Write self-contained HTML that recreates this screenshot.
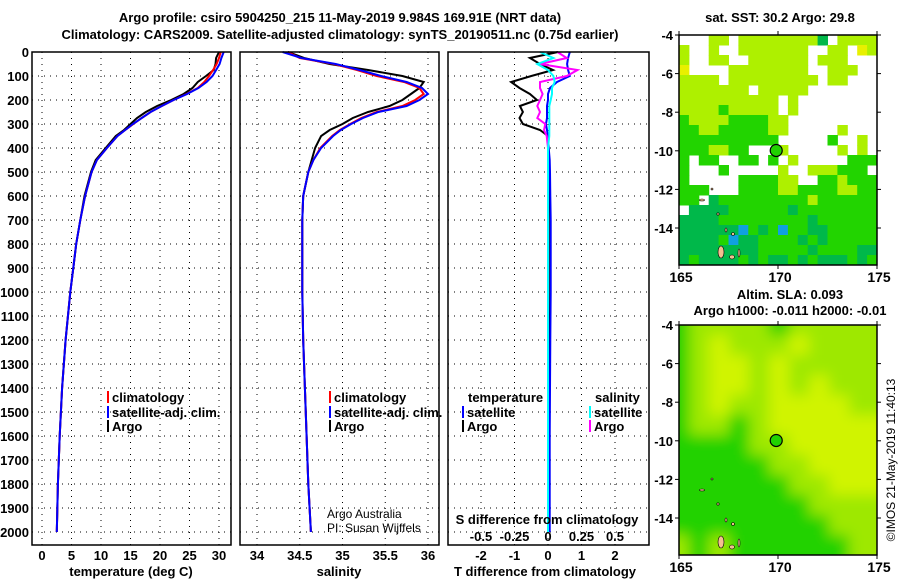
<!DOCTYPE html>
<html><head><meta charset="utf-8"><style>
html,body{margin:0;padding:0;background:#fff}
svg{display:block;font-family:"Liberation Sans",Arial,sans-serif}
text{font-weight:bold;font-size:13px;fill:#000}
</style></head><body>
<svg id="c" width="900" height="580" viewBox="0 0 900 580">
<defs>
<filter id="blur" x="0" y="0" width="1" height="1"><feGaussianBlur stdDeviation="7"/></filter>
<clipPath id="clipTop"><rect x="679" y="35" width="198" height="230"/></clipPath>
<clipPath id="clipBot"><rect x="679" y="325" width="198" height="230"/></clipPath>
</defs>
<text x="340" y="22" text-anchor="middle">Argo profile: csiro 5904250_215 11-May-2019 9.984S 169.91E (NRT data)</text>
<text x="340" y="39" text-anchor="middle">Climatology: CARS2009. Satellite-adjusted climatology: synTS_20190511.nc (0.75d earlier)</text>
<text x="780" y="22" text-anchor="middle">sat. SST: 30.2 Argo: 29.8</text>
<text x="790" y="299" text-anchor="middle">Altim. SLA: 0.093</text>
<text x="790" y="315" text-anchor="middle">Argo h1000: -0.011 h2000: -0.01</text>
<text transform="translate(895,460) rotate(-90)" text-anchor="middle" style="font-weight:normal;font-size:12px">©IMOS 21-May-2019 11:40:13</text>
</svg>
<script>
// ---- data ----
const depths=[0,25,50,75,100,125,150,175,200,225,250,275,300,325,350,400,450,500,600,700,800,900,1000,1200,1400,1600,1800,2000];
const tempClim=[30.3,30.0,29.6,29.0,28.3,27.5,26.4,24.5,22.3,20.3,18.4,16.9,15.5,14.1,12.8,11.0,9.3,8.4,7.3,6.5,5.8,5.3,4.8,4.0,3.4,3.0,2.7,2.5];
const tempSat=[30.8,30.4,30.1,29.5,28.9,27.9,26.5,24.6,22.3,20.3,18.4,16.9,15.4,14.1,12.8,11.0,9.3,8.4,7.3,6.5,5.8,5.3,4.8,4.0,3.4,3.0,2.7,2.5];
const tempArgo=[30.0,29.5,29.4,29.1,27.8,26.4,25.5,24.0,21.9,19.5,17.6,16.1,15.0,13.9,12.5,10.8,9.1,8.3,7.2,6.5,5.8,5.3,4.8,4.0,3.4,3.0,2.7,2.5];
const salClim=[34.36,34.5,34.9,35.17,35.4,35.72,35.9,35.95,35.85,35.7,35.4,35.22,35.09,34.97,34.88,34.74,34.66,34.6,34.54,34.53,34.53,34.53,34.53,34.54,34.56,34.58,34.6,34.63];
const salSat=[34.3,34.52,34.92,35.2,35.45,35.75,35.93,36.0,35.9,35.75,35.42,35.24,35.1,34.98,34.89,34.75,34.66,34.6,34.54,34.53,34.53,34.53,34.53,34.54,34.56,34.58,34.6,34.63];
const salArgo=[34.36,34.55,34.85,35.3,35.7,35.95,35.9,35.8,35.7,35.55,35.3,35.12,35.0,34.85,34.75,34.68,34.64,34.6,34.54,34.53,34.53,34.53,34.53,34.54,34.56,34.58,34.6,34.63];
const tDiffArgo=[0.3,-0.54,-0.24,0.15,-0.5,-1.1,-0.85,-0.54,-0.33,-0.84,-0.75,-0.85,-0.75,-0.24,0,0,0.02,0.02,0.02,0.02,0.02,0.02,0.02,0.02,0.02,0.02,0.02,0.02];
const tDiffSat=[0.65,0.6,0.57,0.6,0.65,0.27,0.06,0,0,-0.03,-0.03,-0.03,-0.06,-0.03,0,0.02,0.05,0.06,0.07,0.08,0.08,0.08,0.08,0.07,0.06,0.05,0.05,0.05];
const sDiffArgo=[0.07,0.14,-0.06,0.22,0.14,-0.06,-0.06,-0.04,-0.06,-0.08,-0.06,-0.08,-0.02,-0.03,-0.01,0,0,0,0,0,0,0,0,0,0,0,0,0];
const sDiffSat=[-0.06,0.04,-0.08,0,0.04,0.05,0.03,0.03,0.02,0.01,0.01,0.01,0.01,0.01,0.01,0,0,0,0,0,0,0,0,0,0,0,0,0];
const depthTicks=[0,100,200,300,400,500,600,700,800,900,1000,1100,1200,1300,1400,1500,1600,1700,1800,1900,2000];
const tempTicks=[0,5,10,15,20,25,30];
const salTicks=[34,34.5,35,35.5,36];
const salTickLabels=["34","34.5","35","35.5","36"];
const tDiffTicks=[-2,-1,0,1,2];
const sDiffTicks=[-0.5,-0.25,0,0.25,0.5];
const sDiffTickLabels=["-0.5","-0.25","0","0.25","0.5"];

const NS='http://www.w3.org/2000/svg';
const svg=document.getElementById('c');
function el(tag,attrs,parent){const e=document.createElementNS(NS,tag);for(const k in attrs)e.setAttribute(k,attrs[k]);(parent||svg).appendChild(e);return e;}
const yD=d=>52+d*0.24;
const PT=545;
const xT=v=>42+v*5.9;
const xS=v=>257+(v-34)*85.5;
const xTd=v=>548+v*33.5;
const xSd=v=>548+v*134;

function panel(x0,x1,name){
  const g=el('g',{});
  
  
  return g;
}
function frame(g,x0,x1){
  const r=el('rect',{x:x0,y:52,width:x1-x0,height:PT-52,fill:'none',stroke:'#000','stroke-width':1.5},g);
  
  
}
function hgrid(g,x0,x1){
  depthTicks.forEach(d=>{
    const l=el('line',{x1:x0,x2:x1,y1:yD(d),y2:yD(d),stroke:'#000','stroke-dasharray':'1,5'},g);
    
    
  });
}
function vgrid(g,xs){
  xs.forEach(x=>{
    const l=el('line',{x1:x,x2:x,y1:52,y2:PT,stroke:'#000','stroke-dasharray':'1,5'},g);
    
    
  });
}
function line(g,vals,fx,color,name){
  const pts=vals.map((v,i)=>fx(v).toFixed(1)+','+yD(depths[i]).toFixed(1)).join(' ');
  const p=el('polyline',{points:pts,fill:'none',stroke:color,'stroke-width':2},g);
  
  
}
function txt(g,x,y,s,name,anchor,style){
  const t=el('text',{x:x,y:y,'text-anchor':anchor||'start'},g);
  if(style)t.setAttribute('style',style);
  t.textContent=s;
  
  
  return t;
}
function legendItem(g,x,y,color,label,name){
  const r=el('rect',{x:x,y:y-11,width:2,height:12,fill:color},g);
  
  
  txt(g,x+5,y,label,name);
}

const ya=panel(0,0,'depth-axis');
depthTicks.forEach(d=>txt(ya,29,yD(d)+5,String(d),'depth-tick-label','end'));

const p1=panel(32,231,'temperature-panel');
hgrid(p1,32,231); vgrid(p1,tempTicks.map(xT));
line(p1,tempArgo,xT,'#000','temp-argo-line');
line(p1,tempClim,xT,'#f00','temp-climatology-line');
line(p1,tempSat,xT,'#00f','temp-satellite-line');
frame(p1,32,231);
tempTicks.forEach(v=>txt(p1,xT(v),560,String(v),'temp-tick-label','middle'));
txt(p1,131,576,'temperature (deg C)','temperature-axis-title','middle');
legendItem(p1,107,402,'#f00','climatology','legend-climatology');
legendItem(p1,107,417,'#00f','satellite-adj. clim.','legend-satellite');
legendItem(p1,107,431,'#000','Argo','legend-argo');

const p2=panel(240,439,'salinity-panel');
hgrid(p2,240,439); vgrid(p2,salTicks.map(xS));
line(p2,salArgo,xS,'#000','sal-argo-line');
line(p2,salClim,xS,'#f00','sal-climatology-line');
line(p2,salSat,xS,'#00f','sal-satellite-line');
frame(p2,240,439);
salTicks.forEach((v,i)=>txt(p2,xS(v),560,salTickLabels[i],'salinity-tick-label','middle'));
txt(p2,339,576,'salinity','salinity-axis-title','middle');
legendItem(p2,329,402,'#f00','climatology','legend-climatology');
legendItem(p2,329,417,'#00f','satellite-adj. clim.','legend-satellite');
legendItem(p2,329,431,'#000','Argo','legend-argo');
txt(p2,327,518,'Argo Australia','credit-argo-australia','start','font-weight:normal;font-size:12px');
txt(p2,327,532,'PI: Susan Wijffels','credit-pi','start','font-weight:normal;font-size:12px');

const p3=panel(448,649,'difference-panel');
hgrid(p3,448,649); vgrid(p3,tDiffTicks.map(xTd));
line(p3,tDiffArgo,xTd,'#000','tdiff-argo-line');
line(p3,tDiffSat,xTd,'#00f','tdiff-satellite-line');
line(p3,sDiffArgo,xSd,'#f0f','sdiff-argo-line');
line(p3,sDiffSat,xSd,'#0ff','sdiff-satellite-line');
frame(p3,448,649);
tDiffTicks.forEach(v=>txt(p3,xTd(v),560,String(v),'tdiff-tick-label','middle'));
sDiffTicks.forEach((v,i)=>txt(p3,xSd(v),541,sDiffTickLabels[i],'sdiff-tick-label','middle'));
txt(p3,547,524,'S difference from climatology','sdiff-axis-title','middle');
txt(p3,545,576,'T difference from climatology','tdiff-axis-title','middle');
txt(p3,468,402,'temperature','legend-temperature-heading');
legendItem(p3,462,417,'#00f','satellite','legend-t-satellite');
legendItem(p3,462,431,'#000','Argo','legend-t-argo');
txt(p3,595,402,'salinity','legend-salinity-heading');
legendItem(p3,589,417,'#0ff','satellite','legend-s-satellite');
legendItem(p3,589,431,'#f0f','Argo','legend-s-argo');

const lonTicks=[165,170,175];
const latTicks=[-4,-6,-8,-10,-12,-14];
function mapAxes(g,top){
  const lx=v=>679+(v-165)*19.8, ly=v=>top+(-4-v)*19.3;
  const r=el('rect',{x:679,y:top,width:198,height:230,fill:'none',stroke:'#000','stroke-width':1.5},g);
  
  
  latTicks.forEach(v=>{
    el('line',{x1:675,x2:679,y1:ly(v),y2:ly(v),stroke:'#000'},g);
    el('line',{x1:877,x2:881,y1:ly(v),y2:ly(v),stroke:'#000'},g);
    txt(g,673,ly(v)+5,String(v),'lat-tick-label','end');
  });
  lonTicks.forEach(v=>{
    el('line',{x1:lx(v),x2:lx(v),y1:top+230,y2:top+234,stroke:'#000'},g);
    el('line',{x1:lx(v),x2:lx(v),y1:top-4,y2:top,stroke:'#000'},g);
    txt(g,lx(v)+2,top+247,String(v),'lon-tick-label','middle','font-size:14px');
  });
  [[721,252,3,6],[732,257,2.5,2],[739,253,1,4],[702,200,2.5,1],[718,214,1.2,1.2],[733,234,1.5,1.5],[712,189,1,1],[726,230,1,2]].forEach(a=>{
    const e=el('ellipse',{cx:a[0],cy:top+(a[1]-35),rx:a[2],ry:a[3],fill:'#f4c090',stroke:'#000','stroke-width':0.6},g);
    
    
  });
  const c=el('circle',{cx:lx(169.91),cy:ly(-9.984),r:6,fill:'#20d200',stroke:'#000','stroke-width':1.2},g);
  
  
}
const sstRows=[
"...yy.yyyyyyyyd.yyyy",
"y..y..yyyyyyy..yy.Yy",
"y..yy..yyyyyy.yyy...",
"Y....yyyyyyyy..yyy..",
"yyyy.yyyyyyyyy.yy...",
"yyyyyyy.yyyyy.......",
"yyyyyyyyyy.y........",
"yyyygyyyyy.y........",
"gyyyyggggyy.........",
"ggyygggggyy.....y...",
"gggggggggg.....g..y.",
"gggyygg...y.....y.y.",
"g.gg..gg.g.y.....ggg",
"g...g.....y..yyyggg.",
"g.....ggggyy..ggyggg",
"ggg...ggggyyggggyygg",
"gg.dgggggggggygggggg",
".ddddggggggdgggggggg",
"ddddgggggggggdgggggg",
"ddddddbgdgbggddggggg",
"ddddgbddggggdgdggggg",
"ddddddddgggggdggggdd",
"dgddddgdgddgdgdddgdg"];
const sstColors={y:'#aef000',Y:'#e8f000',g:'#22d400',d:'#00b84a',b:'#10a0e0'};
const m1=panel(679,877,'sst-map');
const m1c=el('g',{'clip-path':'url(#clipTop)'},m1);
sstRows.forEach((row,r)=>{[...row].forEach((ch,c)=>{
  if(ch==='.')return;
  const cell=el('rect',{x:679+c*9.9,y:35+r*10,width:10.4,height:10.5,fill:sstColors[ch]},m1c);
  
  
});});
mapAxes(m1,35);

const slaRows=["0111101111","0121112111","0122121111","0122121211","0121122221","0110122222","0000112222","0000011222","0000001122","0000000111","0000000011","1010000001"];
const slaColors=['#20d200','#9ee800','#d0f400'];
const m2=panel(679,877,'sla-map');
const m2c=el('g',{'clip-path':'url(#clipBot)'},m2);
const m2b=el('g',{filter:'url(#blur)'},m2c);
el('rect',{x:660,y:300,width:240,height:280,fill:'#60dc00'},m2b);
slaRows.forEach((row,r)=>{[...row].forEach((ch,c)=>{
  const cell=el('rect',{x:669+c*20+(c===0?-20:0),y:315+r*20+(r===0?-20:0),width:20+(c===0||c===9?20:0),height:20+(r===0||r===11?20:0),fill:slaColors[+ch]},m2b);
  
  
});});
mapAxes(m2,325);
</script>
</body></html>
